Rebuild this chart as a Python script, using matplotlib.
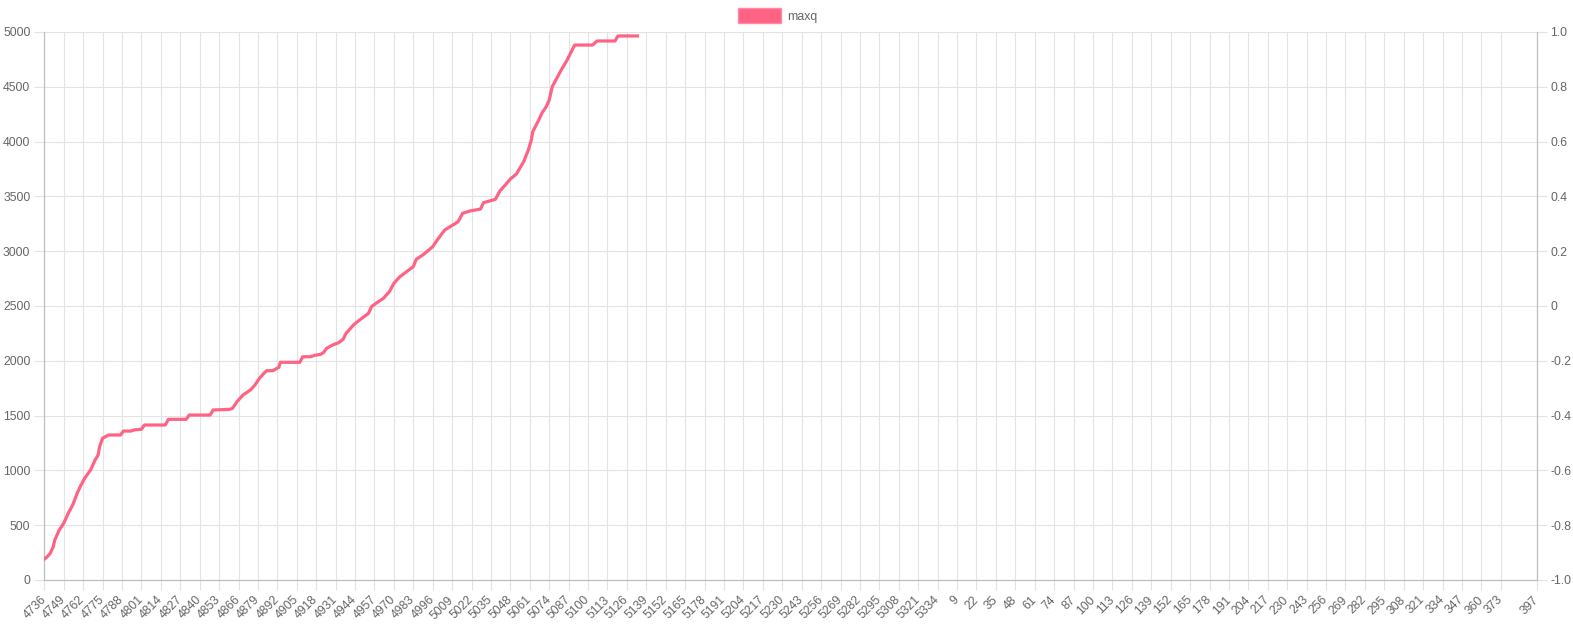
import matplotlib.pyplot as plt

# x categories: 4736..5337 then 0..397 (1000 labels)
labels = [str(v) for v in range(4736, 5338)] + [str(v) for v in range(0, 398)]

# maxq line at these category positions
maxq_idx = [0, 2, 4, 6, 7, 10, 13, 16, 19, 22, 24, 27, 31, 34, 36, 37, 39, 43,
            51, 53, 58, 60, 65, 67, 81, 83, 95, 97, 111, 113, 124, 126, 129,
            133, 138, 141, 144, 147, 149, 153, 157, 158, 171, 173, 178, 181,
            185, 187, 189, 193, 197, 200, 202, 207, 211, 217, 219, 222, 227,
            231, 234, 238, 244, 247, 249, 254, 260, 263, 268, 277, 280, 285,
            292, 294, 298, 302, 305, 308, 312, 316, 321, 324, 326, 327, 331,
            333, 336, 338, 340, 343, 346, 350, 355, 367, 370, 382, 384, 397]
maxq = [190, 213, 244, 304, 365, 456, 517, 608, 684, 791, 851, 928, 1004,
        1095, 1140, 1216, 1293, 1323, 1323, 1359, 1359, 1369, 1375, 1414,
        1414, 1466, 1466, 1505, 1505, 1551, 1557, 1566, 1627, 1688, 1734,
        1779, 1840, 1886, 1910, 1910, 1941, 1986, 1986, 2037, 2037, 2050,
        2059, 2077, 2114, 2144, 2165, 2196, 2251, 2327, 2372, 2433, 2494,
        2524, 2570, 2631, 2707, 2767, 2828, 2859, 2926, 2972, 3041, 3102,
        3193, 3269, 3346, 3367, 3385, 3443, 3458, 3474, 3550, 3595, 3659,
        3704, 3820, 3923, 4015, 4091, 4197, 4258, 4319, 4380, 4501, 4577,
        4653, 4745, 4881, 4881, 4918, 4918, 4964, 4964]

left_ticks = [0, 500, 1000, 1500, 2000, 2500, 3000, 3500, 4000, 4500, 5000]
right_ticks = [-1.0, -0.8, -0.6, -0.4, -0.2, 0, 0.2, 0.4, 0.6, 0.8, 1.0]
right_labels = ["-1.0", "-0.8", "-0.6", "-0.4", "-0.2", "0", "0.2", "0.4", "0.6", "0.8", "1.0"]

plt.rcParams['font.family'] = ['Liberation Sans', 'DejaVu Sans']
grid_c = "#e3e3e3"
axis_c = "#bfbfbf"
text_c = "#666666"

fig = plt.figure(figsize=(15.73, 6.29), dpi=100)
ax = fig.add_axes([44.3 / 1573, 1 - 580 / 629, (1536.7 - 44.3) / 1573, 548 / 629])

ax.plot(maxq_idx, maxq, color="#ff6384", lw=2.3, solid_joinstyle="round", label="maxq", zorder=3)

ax.set_xlim(0, len(labels) - 1)
ax.set_ylim(0, 5000)

xt = list(range(0, len(labels) - 20, 13)) + [len(labels) - 1]
ax.set_xticks(xt)
ax.set_xticklabels([labels[i] for i in xt], rotation=45, ha="right", va="center",
                   rotation_mode="anchor", fontsize=8.8, color=text_c)
ax.set_yticks(left_ticks)
ax.set_yticklabels([str(v) for v in left_ticks], fontsize=8.8, color=text_c)

ax.grid(True, color=grid_c, lw=0.8, zorder=0)
ax.tick_params(axis="both", length=7, color=grid_c, width=0.8, pad=3)
ax.tick_params(axis="x", pad=6)
for s in ["top", "right"]:
    ax.spines[s].set_visible(False)
for s in ["left", "bottom"]:
    ax.spines[s].set_color(axis_c)
    ax.spines[s].set_linewidth(0.9)

ax2 = ax.twinx()
ax2.set_ylim(-1, 1)
ax2.set_yticks(right_ticks)
ax2.set_yticklabels(right_labels, fontsize=8.8, color=text_c)
ax2.tick_params(axis="y", length=7, color=grid_c, width=0.8, pad=3)
for s in ["top", "left", "bottom"]:
    ax2.spines[s].set_visible(False)
ax2.spines["right"].set_color(axis_c)
ax2.spines["right"].set_linewidth(0.9)

leg = fig.legend(handles=[plt.Rectangle((0, 0), 1, 1, facecolor="#ff6384", edgecolor="#ff8aa2")],
                 labels=["maxq"], loc="center", bbox_to_anchor=(778 / 1573, 1 - 15.5 / 629),
                 frameon=False, handlelength=3.5, handleheight=1.5, handletextpad=0.55,
                 fontsize=8.8, labelcolor=text_c)

fig.savefig("out.png", dpi=100)
plt.close(fig)
